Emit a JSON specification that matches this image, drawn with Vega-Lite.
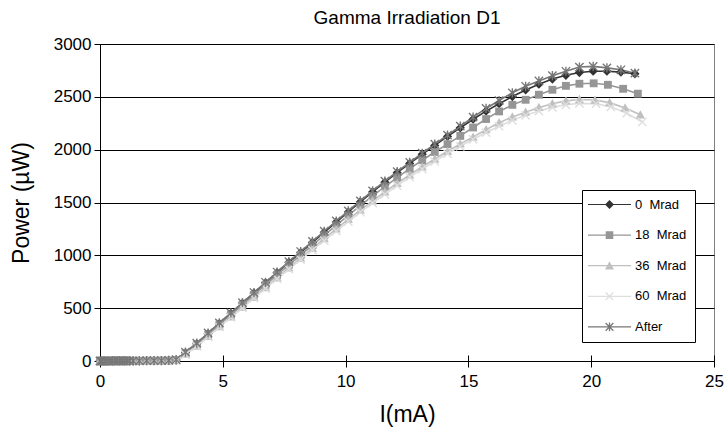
{
"$schema": "https://vega.github.io/schema/vega-lite/v6.json",
"width": 614, "height": 317,
"autosize": {"type": "none"},
"padding": {"left": 100, "top": 44, "right": 12, "bottom": 67},
"background": "white",
"config": {"font": "Liberation Sans", "view": {"stroke": "#808080", "strokeWidth": 1}},
"title": {"text": "Gamma Irradiation D1", "fontSize": 19, "fontWeight": "normal", "font": "Liberation Sans", "color": "#000", "offset": 7, "anchor": "middle"},
"data": {"values": [
{"s":"0\u00a0 Mrad","i":0,"p":0},{"s":"0\u00a0 Mrad","i":0.05,"p":0},{"s":"0\u00a0 Mrad","i":0.1,"p":0},{"s":"0\u00a0 Mrad","i":0.2,"p":0},{"s":"0\u00a0 Mrad","i":0.3,"p":0},{"s":"0\u00a0 Mrad","i":0.4,"p":0},{"s":"0\u00a0 Mrad","i":0.5,"p":1},{"s":"0\u00a0 Mrad","i":0.6,"p":1},{"s":"0\u00a0 Mrad","i":0.7,"p":1},{"s":"0\u00a0 Mrad","i":0.8,"p":1},{"s":"0\u00a0 Mrad","i":0.9,"p":1},{"s":"0\u00a0 Mrad","i":1.0,"p":1},{"s":"0\u00a0 Mrad","i":1.1,"p":1},{"s":"0\u00a0 Mrad","i":1.2,"p":2},{"s":"0\u00a0 Mrad","i":1.35,"p":2},{"s":"0\u00a0 Mrad","i":1.6,"p":2},{"s":"0\u00a0 Mrad","i":1.9,"p":3},{"s":"0\u00a0 Mrad","i":2.2,"p":3},{"s":"0\u00a0 Mrad","i":2.5,"p":4},{"s":"0\u00a0 Mrad","i":2.8,"p":5},{"s":"0\u00a0 Mrad","i":3.1,"p":9},
{"s":"0\u00a0 Mrad","i":3.48,"p":80},{"s":"0\u00a0 Mrad","i":3.94,"p":163},{"s":"0\u00a0 Mrad","i":4.40,"p":258},{"s":"0\u00a0 Mrad","i":4.86,"p":354},{"s":"0\u00a0 Mrad","i":5.33,"p":450},{"s":"0\u00a0 Mrad","i":5.80,"p":546},{"s":"0\u00a0 Mrad","i":6.27,"p":643},{"s":"0\u00a0 Mrad","i":6.74,"p":740},{"s":"0\u00a0 Mrad","i":7.21,"p":836},{"s":"0\u00a0 Mrad","i":7.69,"p":934},{"s":"0\u00a0 Mrad","i":8.17,"p":1026},{"s":"0\u00a0 Mrad","i":8.65,"p":1122},{"s":"0\u00a0 Mrad","i":9.13,"p":1218},{"s":"0\u00a0 Mrad","i":9.62,"p":1315},{"s":"0\u00a0 Mrad","i":10.11,"p":1410},{"s":"0\u00a0 Mrad","i":10.60,"p":1505},{"s":"0\u00a0 Mrad","i":11.10,"p":1600},{"s":"0\u00a0 Mrad","i":11.60,"p":1692},{"s":"0\u00a0 Mrad","i":12.10,"p":1782},{"s":"0\u00a0 Mrad","i":12.61,"p":1870},{"s":"0\u00a0 Mrad","i":13.12,"p":1956},{"s":"0\u00a0 Mrad","i":13.63,"p":2040},{"s":"0\u00a0 Mrad","i":14.15,"p":2125},{"s":"0\u00a0 Mrad","i":14.67,"p":2207},{"s":"0\u00a0 Mrad","i":15.19,"p":2288},{"s":"0\u00a0 Mrad","i":15.72,"p":2365},{"s":"0\u00a0 Mrad","i":16.25,"p":2435},{"s":"0\u00a0 Mrad","i":16.79,"p":2503},{"s":"0\u00a0 Mrad","i":17.33,"p":2565},{"s":"0\u00a0 Mrad","i":17.87,"p":2620},{"s":"0\u00a0 Mrad","i":18.42,"p":2668},{"s":"0\u00a0 Mrad","i":18.97,"p":2704},{"s":"0\u00a0 Mrad","i":19.52,"p":2730},{"s":"0\u00a0 Mrad","i":20.08,"p":2742},{"s":"0\u00a0 Mrad","i":20.64,"p":2742},{"s":"0\u00a0 Mrad","i":21.21,"p":2734},{"s":"0\u00a0 Mrad","i":21.78,"p":2718},
{"s":"18\u00a0 Mrad","i":0,"p":0},{"s":"18\u00a0 Mrad","i":0.05,"p":0},{"s":"18\u00a0 Mrad","i":0.1,"p":0},{"s":"18\u00a0 Mrad","i":0.2,"p":0},{"s":"18\u00a0 Mrad","i":0.3,"p":0},{"s":"18\u00a0 Mrad","i":0.4,"p":0},{"s":"18\u00a0 Mrad","i":0.5,"p":1},{"s":"18\u00a0 Mrad","i":0.6,"p":1},{"s":"18\u00a0 Mrad","i":0.7,"p":1},{"s":"18\u00a0 Mrad","i":0.8,"p":1},{"s":"18\u00a0 Mrad","i":0.9,"p":1},{"s":"18\u00a0 Mrad","i":1.0,"p":1},{"s":"18\u00a0 Mrad","i":1.1,"p":1},{"s":"18\u00a0 Mrad","i":1.2,"p":2},{"s":"18\u00a0 Mrad","i":1.35,"p":2},{"s":"18\u00a0 Mrad","i":1.6,"p":2},{"s":"18\u00a0 Mrad","i":1.9,"p":3},{"s":"18\u00a0 Mrad","i":2.2,"p":3},{"s":"18\u00a0 Mrad","i":2.5,"p":4},{"s":"18\u00a0 Mrad","i":2.8,"p":5},{"s":"18\u00a0 Mrad","i":3.1,"p":8},
{"s":"18\u00a0 Mrad","i":3.48,"p":75},{"s":"18\u00a0 Mrad","i":3.94,"p":155},{"s":"18\u00a0 Mrad","i":4.40,"p":250},{"s":"18\u00a0 Mrad","i":4.86,"p":345},{"s":"18\u00a0 Mrad","i":5.33,"p":438},{"s":"18\u00a0 Mrad","i":5.80,"p":532},{"s":"18\u00a0 Mrad","i":6.27,"p":626},{"s":"18\u00a0 Mrad","i":6.74,"p":720},{"s":"18\u00a0 Mrad","i":7.21,"p":814},{"s":"18\u00a0 Mrad","i":7.69,"p":910},{"s":"18\u00a0 Mrad","i":8.17,"p":1003},{"s":"18\u00a0 Mrad","i":8.65,"p":1097},{"s":"18\u00a0 Mrad","i":9.13,"p":1190},{"s":"18\u00a0 Mrad","i":9.62,"p":1284},{"s":"18\u00a0 Mrad","i":10.11,"p":1378},{"s":"18\u00a0 Mrad","i":10.60,"p":1470},{"s":"18\u00a0 Mrad","i":11.10,"p":1562},{"s":"18\u00a0 Mrad","i":11.60,"p":1650},{"s":"18\u00a0 Mrad","i":12.10,"p":1735},{"s":"18\u00a0 Mrad","i":12.61,"p":1820},{"s":"18\u00a0 Mrad","i":13.12,"p":1900},{"s":"18\u00a0 Mrad","i":13.63,"p":1978},{"s":"18\u00a0 Mrad","i":14.15,"p":2052},{"s":"18\u00a0 Mrad","i":14.67,"p":2130},{"s":"18\u00a0 Mrad","i":15.19,"p":2210},{"s":"18\u00a0 Mrad","i":15.72,"p":2290},{"s":"18\u00a0 Mrad","i":16.25,"p":2362},{"s":"18\u00a0 Mrad","i":16.79,"p":2424},{"s":"18\u00a0 Mrad","i":17.33,"p":2472},{"s":"18\u00a0 Mrad","i":17.87,"p":2520},{"s":"18\u00a0 Mrad","i":18.42,"p":2567},{"s":"18\u00a0 Mrad","i":18.97,"p":2604},{"s":"18\u00a0 Mrad","i":19.52,"p":2624},{"s":"18\u00a0 Mrad","i":20.1,"p":2628},{"s":"18\u00a0 Mrad","i":20.68,"p":2614},{"s":"18\u00a0 Mrad","i":21.3,"p":2576},{"s":"18\u00a0 Mrad","i":21.9,"p":2530},
{"s":"36\u00a0 Mrad","i":0,"p":0},{"s":"36\u00a0 Mrad","i":0.05,"p":0},{"s":"36\u00a0 Mrad","i":0.1,"p":0},{"s":"36\u00a0 Mrad","i":0.2,"p":0},{"s":"36\u00a0 Mrad","i":0.3,"p":0},{"s":"36\u00a0 Mrad","i":0.4,"p":0},{"s":"36\u00a0 Mrad","i":0.5,"p":1},{"s":"36\u00a0 Mrad","i":0.6,"p":1},{"s":"36\u00a0 Mrad","i":0.7,"p":1},{"s":"36\u00a0 Mrad","i":0.8,"p":1},{"s":"36\u00a0 Mrad","i":0.9,"p":1},{"s":"36\u00a0 Mrad","i":1.0,"p":1},{"s":"36\u00a0 Mrad","i":1.1,"p":1},{"s":"36\u00a0 Mrad","i":1.2,"p":2},{"s":"36\u00a0 Mrad","i":1.35,"p":2},{"s":"36\u00a0 Mrad","i":1.6,"p":2},{"s":"36\u00a0 Mrad","i":1.9,"p":3},{"s":"36\u00a0 Mrad","i":2.2,"p":3},{"s":"36\u00a0 Mrad","i":2.5,"p":4},{"s":"36\u00a0 Mrad","i":2.8,"p":5},{"s":"36\u00a0 Mrad","i":3.1,"p":7},
{"s":"36\u00a0 Mrad","i":3.48,"p":65},{"s":"36\u00a0 Mrad","i":3.94,"p":142},{"s":"36\u00a0 Mrad","i":4.40,"p":233},{"s":"36\u00a0 Mrad","i":4.86,"p":325},{"s":"36\u00a0 Mrad","i":5.33,"p":418},{"s":"36\u00a0 Mrad","i":5.80,"p":510},{"s":"36\u00a0 Mrad","i":6.27,"p":602},{"s":"36\u00a0 Mrad","i":6.74,"p":696},{"s":"36\u00a0 Mrad","i":7.21,"p":788},{"s":"36\u00a0 Mrad","i":7.69,"p":882},{"s":"36\u00a0 Mrad","i":8.17,"p":974},{"s":"36\u00a0 Mrad","i":8.65,"p":1066},{"s":"36\u00a0 Mrad","i":9.13,"p":1158},{"s":"36\u00a0 Mrad","i":9.62,"p":1250},{"s":"36\u00a0 Mrad","i":10.11,"p":1340},{"s":"36\u00a0 Mrad","i":10.60,"p":1428},{"s":"36\u00a0 Mrad","i":11.10,"p":1516},{"s":"36\u00a0 Mrad","i":11.60,"p":1600},{"s":"36\u00a0 Mrad","i":12.10,"p":1682},{"s":"36\u00a0 Mrad","i":12.61,"p":1762},{"s":"36\u00a0 Mrad","i":13.12,"p":1838},{"s":"36\u00a0 Mrad","i":13.63,"p":1912},{"s":"36\u00a0 Mrad","i":14.15,"p":1985},{"s":"36\u00a0 Mrad","i":14.67,"p":2055},{"s":"36\u00a0 Mrad","i":15.19,"p":2120},{"s":"36\u00a0 Mrad","i":15.72,"p":2190},{"s":"36\u00a0 Mrad","i":16.25,"p":2255},{"s":"36\u00a0 Mrad","i":16.79,"p":2310},{"s":"36\u00a0 Mrad","i":17.33,"p":2355},{"s":"36\u00a0 Mrad","i":17.87,"p":2400},{"s":"36\u00a0 Mrad","i":18.42,"p":2435},{"s":"36\u00a0 Mrad","i":18.97,"p":2462},{"s":"36\u00a0 Mrad","i":19.52,"p":2475},{"s":"36\u00a0 Mrad","i":20.15,"p":2470},{"s":"36\u00a0 Mrad","i":20.75,"p":2445},{"s":"36\u00a0 Mrad","i":21.38,"p":2395},{"s":"36\u00a0 Mrad","i":22.0,"p":2330},
{"s":"60\u00a0 Mrad","i":0,"p":0},{"s":"60\u00a0 Mrad","i":0.05,"p":0},{"s":"60\u00a0 Mrad","i":0.1,"p":0},{"s":"60\u00a0 Mrad","i":0.2,"p":0},{"s":"60\u00a0 Mrad","i":0.3,"p":0},{"s":"60\u00a0 Mrad","i":0.4,"p":0},{"s":"60\u00a0 Mrad","i":0.5,"p":1},{"s":"60\u00a0 Mrad","i":0.6,"p":1},{"s":"60\u00a0 Mrad","i":0.7,"p":1},{"s":"60\u00a0 Mrad","i":0.8,"p":1},{"s":"60\u00a0 Mrad","i":0.9,"p":1},{"s":"60\u00a0 Mrad","i":1.0,"p":1},{"s":"60\u00a0 Mrad","i":1.1,"p":1},{"s":"60\u00a0 Mrad","i":1.2,"p":2},{"s":"60\u00a0 Mrad","i":1.35,"p":2},{"s":"60\u00a0 Mrad","i":1.6,"p":2},{"s":"60\u00a0 Mrad","i":1.9,"p":3},{"s":"60\u00a0 Mrad","i":2.2,"p":3},{"s":"60\u00a0 Mrad","i":2.5,"p":4},{"s":"60\u00a0 Mrad","i":2.8,"p":5},{"s":"60\u00a0 Mrad","i":3.1,"p":6},
{"s":"60\u00a0 Mrad","i":3.48,"p":60},{"s":"60\u00a0 Mrad","i":3.94,"p":138},{"s":"60\u00a0 Mrad","i":4.40,"p":228},{"s":"60\u00a0 Mrad","i":4.86,"p":320},{"s":"60\u00a0 Mrad","i":5.33,"p":412},{"s":"60\u00a0 Mrad","i":5.80,"p":503},{"s":"60\u00a0 Mrad","i":6.27,"p":595},{"s":"60\u00a0 Mrad","i":6.74,"p":687},{"s":"60\u00a0 Mrad","i":7.21,"p":778},{"s":"60\u00a0 Mrad","i":7.69,"p":870},{"s":"60\u00a0 Mrad","i":8.17,"p":960},{"s":"60\u00a0 Mrad","i":8.65,"p":1050},{"s":"60\u00a0 Mrad","i":9.13,"p":1140},{"s":"60\u00a0 Mrad","i":9.62,"p":1230},{"s":"60\u00a0 Mrad","i":10.11,"p":1320},{"s":"60\u00a0 Mrad","i":10.60,"p":1408},{"s":"60\u00a0 Mrad","i":11.10,"p":1495},{"s":"60\u00a0 Mrad","i":11.60,"p":1578},{"s":"60\u00a0 Mrad","i":12.10,"p":1660},{"s":"60\u00a0 Mrad","i":12.61,"p":1740},{"s":"60\u00a0 Mrad","i":13.12,"p":1816},{"s":"60\u00a0 Mrad","i":13.63,"p":1890},{"s":"60\u00a0 Mrad","i":14.15,"p":1962},{"s":"60\u00a0 Mrad","i":14.67,"p":2032},{"s":"60\u00a0 Mrad","i":15.19,"p":2098},{"s":"60\u00a0 Mrad","i":15.72,"p":2162},{"s":"60\u00a0 Mrad","i":16.25,"p":2222},{"s":"60\u00a0 Mrad","i":16.79,"p":2278},{"s":"60\u00a0 Mrad","i":17.33,"p":2325},{"s":"60\u00a0 Mrad","i":17.87,"p":2365},{"s":"60\u00a0 Mrad","i":18.42,"p":2400},{"s":"60\u00a0 Mrad","i":18.97,"p":2425},{"s":"60\u00a0 Mrad","i":19.52,"p":2438},{"s":"60\u00a0 Mrad","i":20.2,"p":2435},{"s":"60\u00a0 Mrad","i":20.8,"p":2405},{"s":"60\u00a0 Mrad","i":21.45,"p":2345},{"s":"60\u00a0 Mrad","i":22.08,"p":2262},
{"s":"After","i":0,"p":0},{"s":"After","i":0.05,"p":0},{"s":"After","i":0.1,"p":0},{"s":"After","i":0.2,"p":0},{"s":"After","i":0.3,"p":0},{"s":"After","i":0.4,"p":0},{"s":"After","i":0.5,"p":1},{"s":"After","i":0.6,"p":1},{"s":"After","i":0.7,"p":1},{"s":"After","i":0.8,"p":1},{"s":"After","i":0.9,"p":1},{"s":"After","i":1.0,"p":1},{"s":"After","i":1.1,"p":1},{"s":"After","i":1.2,"p":2},{"s":"After","i":1.35,"p":2},{"s":"After","i":1.6,"p":2},{"s":"After","i":1.9,"p":3},{"s":"After","i":2.2,"p":3},{"s":"After","i":2.5,"p":4},{"s":"After","i":2.8,"p":6},{"s":"After","i":3.1,"p":12},
{"s":"After","i":3.48,"p":85},{"s":"After","i":3.94,"p":170},{"s":"After","i":4.40,"p":265},{"s":"After","i":4.86,"p":360},{"s":"After","i":5.33,"p":455},{"s":"After","i":5.80,"p":552},{"s":"After","i":6.27,"p":648},{"s":"After","i":6.74,"p":745},{"s":"After","i":7.21,"p":842},{"s":"After","i":7.69,"p":940},{"s":"After","i":8.17,"p":1036},{"s":"After","i":8.65,"p":1132},{"s":"After","i":9.13,"p":1228},{"s":"After","i":9.62,"p":1325},{"s":"After","i":10.11,"p":1420},{"s":"After","i":10.60,"p":1515},{"s":"After","i":11.10,"p":1610},{"s":"After","i":11.60,"p":1702},{"s":"After","i":12.10,"p":1792},{"s":"After","i":12.61,"p":1880},{"s":"After","i":13.12,"p":1966},{"s":"After","i":13.63,"p":2052},{"s":"After","i":14.15,"p":2138},{"s":"After","i":14.67,"p":2222},{"s":"After","i":15.19,"p":2308},{"s":"After","i":15.72,"p":2390},{"s":"After","i":16.25,"p":2465},{"s":"After","i":16.79,"p":2538},{"s":"After","i":17.33,"p":2600},{"s":"After","i":17.87,"p":2650},{"s":"After","i":18.42,"p":2700},{"s":"After","i":18.97,"p":2742},{"s":"After","i":19.52,"p":2782},{"s":"After","i":20.08,"p":2788},{"s":"After","i":20.64,"p":2774},{"s":"After","i":21.21,"p":2756},{"s":"After","i":21.78,"p":2724}
]},
"encoding": {
  "x": {"field": "i", "type": "quantitative", "scale": {"domain": [0, 25], "nice": false, "zero": false},
    "axis": {"values": [0, 5, 10, 15, 20, 25], "domain": false, "grid": false, "offset": -6, "tickSize": 12, "tickColor": "#000", "tickWidth": 1, "labelFontSize": 17, "labelColor": "#000", "labelPadding": 6, "labelFont": "Liberation Sans", "labelFlush": false, "labelOverlap": false, "title": "I(mA)", "titleFont": "Liberation Sans", "titleFontSize": 23, "titleFontWeight": "normal", "titleColor": "#000", "titlePadding": 14}},
  "y": {"field": "p", "type": "quantitative", "scale": {"domain": [0, 3000], "nice": false},
    "axis": {"values": [0, 500, 1000, 1500, 2000, 2500, 3000], "format": "d", "grid": true, "gridColor": "#000", "gridWidth": 1, "gridOpacity": 1, "domain": true, "domainColor": "#000", "domainWidth": 1, "tickSize": 6, "tickColor": "#000", "tickWidth": 1, "labelFontSize": 17, "labelColor": "#000", "labelPadding": 3, "labelFont": "Liberation Sans", "labelFlush": false, "labelOverlap": false, "title": "Power (µW)", "titleFont": "Liberation Sans", "titleFontSize": 23, "titleFontWeight": "normal", "titleColor": "#000", "titlePadding": 20}}
},
"resolve": {"scale": {"shape": "independent"}, "legend": {"color": "independent", "shape": "independent"}},
"layer": [
  {"mark": {"type": "line", "strokeWidth": 1.6},
   "encoding": {"color": {"field": "s", "type": "nominal",
     "scale": {"domain": ["0\u00a0 Mrad", "18\u00a0 Mrad", "36\u00a0 Mrad", "60\u00a0 Mrad", "After"], "range": ["#333333", "#969696", "#c0c0c0", "#dedede", "#777777"]},
     "legend": null}}},
  {"mark": {"type": "point", "filled": true, "size": 85, "opacity": 1},
   "encoding": {
     "color": {"field": "s", "type": "nominal",
       "scale": {"domain": ["0\u00a0 Mrad", "18\u00a0 Mrad", "36\u00a0 Mrad", "60\u00a0 Mrad", "After"], "range": ["#333333", "#969696", "#c0c0c0", "#dedede", "#777777"]},
       "legend": null},
     "shape": {"field": "s", "type": "nominal",
       "scale": {"domain": ["0\u00a0 Mrad", "18\u00a0 Mrad", "36\u00a0 Mrad", "60\u00a0 Mrad", "After"],
         "range": ["M0,-1L1,0L0,1L-1,0Z", "M-0.85,-0.85L0.85,-0.85L0.85,0.85L-0.85,0.85Z", "M0,-1L1,0.8L-1,0.8Z", "M-0.794,-1.006L1.006,0.794L0.794,1.006L-1.006,-0.794ZM-0.794,1.006L-1.006,0.794L0.794,-1.006L1.006,-0.794Z", "M-0.794,-1.006L1.006,0.794L0.794,1.006L-1.006,-0.794ZM-0.794,1.006L-1.006,0.794L0.794,-1.006L1.006,-0.794ZM-0.15,-1L0.15,-1L0.15,1L-0.15,1Z"]},
       "legend": null}}},
  {"transform": [{"filter": "datum.p < 0"}],
   "mark": {"type": "point", "filled": true, "size": 100, "opacity": 1},
   "encoding": {
     "color": {"field": "s", "type": "nominal",
       "scale": {"domain": ["0\u00a0 Mrad", "18\u00a0 Mrad", "36\u00a0 Mrad", "60\u00a0 Mrad", "After"], "range": ["#333333", "#969696", "#c0c0c0", "#dedede", "#777777"]},
       "legend": {"title": null, "orient": "none", "legendX": 482, "legendY": 146, "padding": 8, "strokeColor": "#000", "fillColor": "#fff", "cornerRadius": 0, "labelFont": "Liberation Sans", "labelFontSize": 13, "labelColor": "#000", "labelOffset": 19, "symbolOffset": 13, "symbolSize": 100, "rowPadding": 16.6, "symbolStrokeWidth": 0, "symbolOpacity": 1}},
     "shape": {"field": "s", "type": "nominal",
       "scale": {"domain": ["0\u00a0 Mrad", "18\u00a0 Mrad", "36\u00a0 Mrad", "60\u00a0 Mrad", "After"],
         "range": [
           "M-4.3,-0.12L4.3,-0.12L4.3,0.12L-4.3,0.12ZM0,-0.9L0.9,0L0,0.9L-0.9,0Z",
           "M-4.3,-0.12L4.3,-0.12L4.3,0.12L-4.3,0.12ZM-0.76,-0.76L0.76,-0.76L0.76,0.76L-0.76,0.76Z",
           "M-4.3,-0.12L4.3,-0.12L4.3,0.12L-4.3,0.12ZM0,-0.9L0.9,0.76L-0.9,0.76Z",
           "M-4.3,-0.12L4.3,-0.12L4.3,0.12L-4.3,0.12ZM-0.683,-0.865L0.865,0.683L0.683,0.865L-0.865,-0.683ZM-0.683,0.865L-0.865,0.683L0.683,-0.865L0.865,-0.683Z",
           "M-4.3,-0.12L4.3,-0.12L4.3,0.12L-4.3,0.12ZM-0.683,-0.865L0.865,0.683L0.683,0.865L-0.865,-0.683ZM-0.683,0.865L-0.865,0.683L0.683,-0.865L0.865,-0.683ZM-0.13,-0.86L0.13,-0.86L0.13,0.86L-0.13,0.86Z"]},
       "legend": {"title": null, "orient": "none", "legendX": 482, "legendY": 146, "padding": 8, "strokeColor": "#000", "fillColor": "#fff", "cornerRadius": 0, "labelFont": "Liberation Sans", "labelFontSize": 13, "labelColor": "#000", "labelOffset": 19, "symbolOffset": 13, "symbolSize": 100, "rowPadding": 16.6, "symbolStrokeWidth": 0, "symbolOpacity": 1}}}}
]
}
